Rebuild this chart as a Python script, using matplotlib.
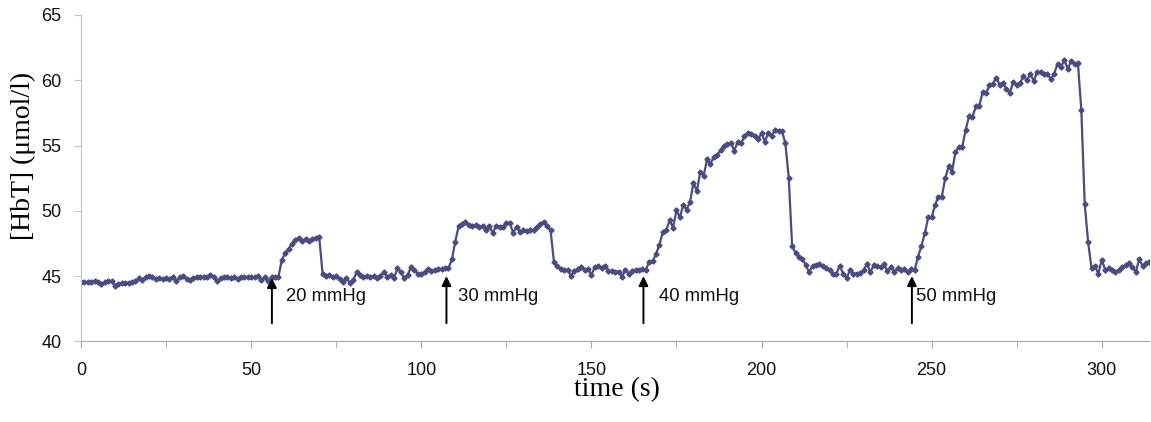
import matplotlib
matplotlib.use("Agg")
import matplotlib.pyplot as plt
import matplotlib.ticker as mticker
import numpy as np

# HbT trace, one sample per second (t = 0 .. 314 s)
hbt = [
    44.58, 44.55, 44.52, 44.55, 44.6, 44.58, 44.38, 44.55, 44.6, 44.6,
    44.28, 44.42, 44.45, 44.48, 44.5, 44.52, 44.6, 44.84, 44.71, 44.9,
    45.0, 44.96, 44.8, 44.84, 44.8, 44.84, 44.8, 44.96, 44.6, 44.9,
    45.0, 44.8, 44.71, 44.84, 44.92, 44.96, 44.96, 44.96, 45.09, 44.9,
    44.6, 44.84, 44.9, 44.96, 44.84, 44.96, 44.8, 44.9, 44.92, 44.92,
    44.92, 44.92, 45.05, 44.7, 44.92, 44.6, 44.92, 44.92, 44.92, 46.24,
    46.75, 47.1, 47.5, 47.8, 47.9, 47.7, 47.85, 47.7, 47.85, 47.95,
    48.0, 45.2, 45.0, 45.1, 44.9, 45.05, 44.8, 44.55, 44.85, 44.5,
    44.7, 45.3, 45.1, 44.95, 45.05, 44.9, 45.0, 44.85, 45.0, 45.35,
    44.95, 45.1, 44.85, 45.6, 45.3, 44.85, 45.1, 45.7, 45.45, 45.2,
    45.15, 45.3, 45.55, 45.4, 45.45, 45.55, 45.55, 45.6, 45.6, 46.3,
    47.65, 48.85, 49.0, 49.15, 48.9, 48.85, 48.9, 48.8, 48.85, 48.55,
    48.85, 48.3, 48.85, 48.8, 48.8, 49.05, 49.1, 48.3, 48.8, 48.4,
    48.5, 48.45, 48.5, 48.55, 48.8, 49.0, 49.15, 48.85, 48.5, 46.1,
    45.75, 45.55, 45.5, 45.5, 45.05, 45.4, 45.55, 45.7, 45.5, 45.55,
    45.1, 45.7, 45.75, 45.65, 45.75, 45.4, 45.4, 45.35, 45.35, 44.95,
    45.5, 45.2, 45.4, 45.5, 45.5, 45.55, 45.5, 46.1, 46.15, 46.7,
    47.4, 48.4, 48.5, 49.3, 48.7, 50.05, 49.5, 50.45, 50.1, 50.7,
    52.15, 51.5, 53.0, 52.7, 53.95, 53.6, 54.15, 54.3, 54.65, 55.0,
    55.1, 55.2, 54.6, 55.3, 55.2, 55.7, 56.0, 55.85, 55.7, 55.5,
    55.95, 55.3, 56.0, 55.75, 56.2, 56.15, 56.1, 55.2, 52.55, 47.3,
    46.8, 46.5, 46.35, 45.85, 45.3, 45.8, 45.85, 45.9, 45.75, 45.6,
    45.45, 45.2, 45.2, 45.8, 45.2, 44.85, 45.45, 45.2, 45.2, 45.25,
    45.45, 45.95, 45.3, 45.85, 45.75, 45.7, 45.9, 45.4, 45.7, 45.35,
    45.6, 45.5, 45.55, 45.3, 45.55, 45.45, 46.5, 47.3, 48.3, 49.5,
    49.5, 50.45, 51.1, 51.1, 52.5, 53.4, 53.0, 54.5, 54.9, 54.9,
    56.2, 57.25, 57.2, 58.0, 58.05, 59.1, 59.0, 59.65, 59.75, 60.2,
    59.65, 59.8, 59.3, 59.05, 59.9, 59.65, 59.8, 60.3, 60.0, 60.5,
    59.95, 60.6, 60.6, 60.5, 60.5, 60.1, 60.5, 61.25, 61.0, 61.55,
    60.9, 61.45, 61.25, 61.3, 57.7, 50.5, 47.6, 45.6, 45.75, 45.2,
    46.25, 45.5, 45.6, 45.5, 45.3, 45.5, 45.7, 45.85, 46.0, 45.7,
    45.3, 46.3, 45.8, 46.0, 46.1,
]
time_s = np.arange(len(hbt))

# occlusion pressure steps: arrow time, arrow tip, label
step_labels = ["20 mmHg", "30 mmHg", "40 mmHg", "50 mmHg"]
step_times = [56.1, 107.4, 165.3, 244.2]
step_tips = [44.85, 45.0, 45.0, 45.0]
label_times = [60.2, 110.8, 169.9, 245.4]

line_color = "#4C4B80"

fig = plt.figure(figsize=(11.51, 4.22), dpi=100)
ax = fig.add_axes([0.0704, 0.1908, 0.9276, 0.7737])

ax.plot(time_s, hbt, color=line_color, linewidth=1.6, marker="D",
        markersize=2.6, markerfacecolor=line_color, markeredgecolor=line_color)

for lab, t, tip, lt in zip(step_labels, step_times, step_tips, label_times):
    ax.annotate("", xy=(t, tip), xytext=(t, 41.4),
                arrowprops=dict(arrowstyle="-|>", color="black", lw=1.4,
                                mutation_scale=14, shrinkA=0, shrinkB=0))
    ax.text(lt, 43.45, lab, fontsize=13.3, family="Liberation Sans",
            ha="left", va="center", color="#111111")

ax.set_xlim(0, 313.8)
ax.set_ylim(40, 65)
ax.xaxis.set_major_locator(mticker.MultipleLocator(50))
ax.xaxis.set_minor_locator(mticker.MultipleLocator(25))
ax.yaxis.set_major_locator(mticker.MultipleLocator(5))

for s in ["top", "right"]:
    ax.spines[s].set_visible(False)
ax.spines["left"].set_color("#CDBFBF")
ax.spines["bottom"].set_color("#A8A8A8")

ax.tick_params(axis="x", which="both", length=5, color="#A8A8A8", pad=10,
               labelsize=13, labelcolor="#111111")
ax.tick_params(axis="y", which="major", length=5, color="#CDBFBF", pad=9,
               labelsize=13, labelcolor="#111111")
for lbl in ax.get_xticklabels() + ax.get_yticklabels():
    lbl.set_family("Liberation Sans")

ax.set_xlabel("time (s)", fontsize=20, family="Liberation Serif")
ax.set_ylabel("[HbT] (\u03bcmol/l)", fontsize=20, family="Liberation Serif")
ax.xaxis.set_label_coords(0.502, -0.148)
ax.yaxis.set_label_coords(-0.054, 0.568)
ax.xaxis.label.set_va("center")
ax.yaxis.label.set_va("center")

fig.savefig("out.png", dpi=100)
